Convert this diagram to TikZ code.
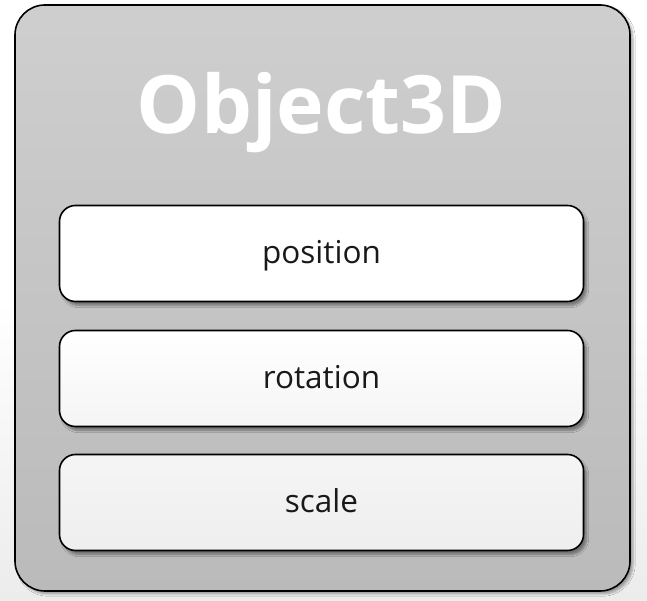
\documentclass[tikz,border=0pt]{standalone}
\usepackage{fontspec}
\setmainfont{Open Sans}
\usetikzlibrary{shadows.blur}
\begin{document}
\begin{tikzpicture}[x=1pt,y=1pt,
  outerbox/.style={draw=black, line width=1.6pt, rounded corners=30pt,
    top color=gray!38, bottom color=gray!54,
    blur shadow={shadow xshift=3pt, shadow yshift=-3pt, shadow blur steps=6, shadow opacity=35}},
  fieldbox/.style={draw=black, line width=1.6pt, rounded corners=16pt,
    minimum width=524pt, minimum height=96pt, inner sep=0pt,
    text height=27pt, text depth=6pt,
    text=black!90, font=\fontsize{31.5}{36}\selectfont,
    blur shadow={shadow xshift=3pt, shadow yshift=-4pt, shadow blur steps=6, shadow opacity=40}},
  titletext/.style={text=white, font=\fontsize{80.5}{90}\selectfont\bfseries}]
\useasboundingbox[shade, top color=white, bottom color=gray!15, middle color=white] (0,0) rectangle (647,601);
\draw[outerbox] (15,10) rectangle (630,596);
\node[titletext] (title) at (321.5,488) {Object3D};
\node[fieldbox, top color=white, bottom color=white] (pos) at (321.5,347.5) {position};
\node[fieldbox, top color=white, bottom color=gray!8] (rot) at (321.5,222.5) {rotation};
\node[fieldbox, top color=gray!8, bottom color=gray!13] (scl) at (321.5,98.5) {scale};
\end{tikzpicture}
\end{document}
